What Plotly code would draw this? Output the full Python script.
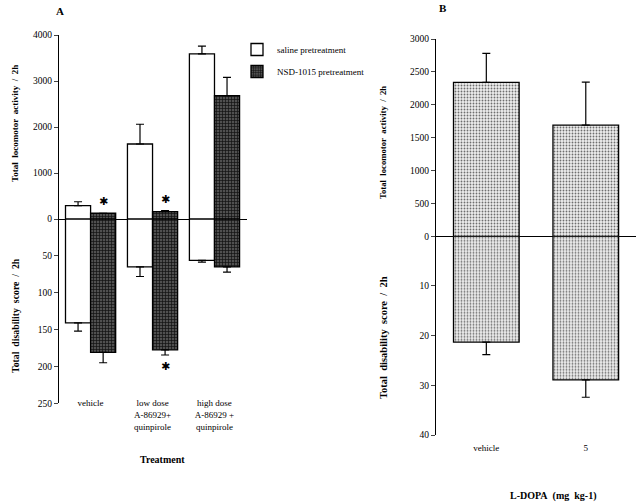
import plotly.graph_objects as go

# ---------------- data ----------------
treatments = ["vehicle", "low dose<br>A-86929+<br>quinpirole", "high dose<br>A-86929 +<br>quinpirole"]
saline_loco = [290, 1630, 3590]
saline_loco_err = [85, 430, 170]
nsd_loco = [125, 160, 2680]
nsd_loco_err = [0, 25, 400]
saline_dis = [141, 65, 56]
saline_dis_err = [11, 13, 2.5]
nsd_dis = [181, 177.5, 65]
nsd_dis_err = [14, 7, 7]
# significance stars: (category index, panel, value)
stars = [(0, "loco", 390), (1, "loco", 430), (1, "dis", 200)]

ldopa = ["vehicle", "5"]
ldopa_loco = [2340, 1690]
ldopa_loco_err = [440, 655]
ldopa_dis = [21.3, 28.9]
ldopa_dis_err = [2.5, 3.5]

FONT = "Liberation Serif"
W, H = 640, 504

def px_x(p):
    return p / W

def px_y(p):
    return (H - p) / H

fig = go.Figure()

sal_style = dict(marker=dict(color="white", line=dict(color="black", width=1.3)))
nsd_style = dict(marker=dict(color="#4a4a4a", line=dict(color="black", width=1.3),
                             pattern=dict(shape="+", size=3, solidity=0.4,
                                          fgcolor="#111111", bgcolor="#505050")))
err_kw = dict(type="data", symmetric=False, color="black", thickness=1.2, width=4)

# Panel A - locomotor (top)
fig.add_bar(x=treatments, y=saline_loco, name="saline pretreatment", xaxis="x", yaxis="y",
            error_y=dict(array=saline_loco_err, arrayminus=[0]*3, **err_kw),
            legendgroup="s", **sal_style)
fig.add_bar(x=treatments, y=nsd_loco, name="NSD-1015 pretreatment", xaxis="x", yaxis="y",
            error_y=dict(array=nsd_loco_err, arrayminus=[0]*3, **err_kw),
            legendgroup="n", **nsd_style)
# Panel A - disability (bottom)
fig.add_bar(x=treatments, y=saline_dis, name="saline pretreatment", xaxis="x2", yaxis="y2",
            error_y=dict(array=saline_dis_err, arrayminus=[0]*3, **err_kw),
            legendgroup="s", showlegend=False, **sal_style)
fig.add_bar(x=treatments, y=nsd_dis, name="NSD-1015 pretreatment", xaxis="x2", yaxis="y2",
            error_y=dict(array=nsd_dis_err, arrayminus=[0]*3, **err_kw),
            legendgroup="n", showlegend=False, **nsd_style)

dot_style = dict(marker=dict(color="#e8e8e8", line=dict(color="black", width=1.3),
                             pattern=dict(shape=".", size=3, solidity=0.3,
                                          fgcolor="#6e6e6e", bgcolor="#eeeeee")),
                 width=0.66, showlegend=False)
# Panel B
fig.add_bar(x=ldopa, y=ldopa_loco, xaxis="x3", yaxis="y3",
            error_y=dict(array=ldopa_loco_err, arrayminus=[0]*2, **err_kw), **dot_style)
fig.add_bar(x=ldopa, y=ldopa_dis, xaxis="x4", yaxis="y4",
            error_y=dict(array=ldopa_dis_err, arrayminus=[0]*2, **err_kw), **dot_style)

tickfont = dict(family=FONT, size=9.5, color="black")
ax_common = dict(showgrid=False, zeroline=False, tickfont=tickfont, automargin=False)
xcat = dict(showgrid=False, zeroline=False, automargin=False, type="category",
            tickfont=dict(family=FONT, size=9, color="black"))

xA = [px_x(59), px_x(246.7)]
xB = [px_x(436), px_x(636)]

fig.update_layout(
    template="none",
    width=W, height=H, margin=dict(l=0, r=0, t=0, b=0, pad=0, autoexpand=False),
    paper_bgcolor="white", plot_bgcolor="white",
    barmode="group", bargap=0.19, bargroupgap=0,
    font=dict(family=FONT, color="black"),
    showlegend=True,
    legend=dict(x=px_x(237), y=px_y(35), xanchor="left", yanchor="top",
                font=dict(family=FONT, size=9, color="black"),
                bgcolor="rgba(0,0,0,0)", tracegroupgap=3, itemwidth=30),
    xaxis=dict(domain=xA, anchor="y", range=[-0.51, 2.52], showticklabels=False,
               showline=True, linecolor="black", linewidth=1.3, ticks="", **xcat),
    yaxis=dict(domain=[px_y(219), px_y(35)], anchor="x", range=[0, 4000],
               tickvals=[0, 1000, 2000, 3000, 4000], ticks="outside", ticklen=4,
               showline=True, linecolor="black", linewidth=1.3, **ax_common),
    xaxis2=dict(domain=xA, anchor="y2", range=[-0.51, 2.52], showline=False, ticks="",
                ticklabelstandoff=-7, **xcat),
    yaxis2=dict(domain=[px_y(403.3), px_y(219)], anchor="x2", range=[250, 0],
                tickvals=[50, 100, 150, 200, 250], ticks="outside", ticklen=4,
                showline=True, linecolor="black", linewidth=1.3, **ax_common),
    xaxis3=dict(domain=xB, anchor="y3", range=[-0.506, 1.505], showticklabels=False,
                showline=True, linecolor="black", linewidth=1.3, ticks="", **xcat),
    yaxis3=dict(domain=[px_y(236.3), px_y(39)], anchor="x3", range=[0, 3000],
                tickvals=[0, 500, 1000, 1500, 2000, 2500, 3000], ticks="outside", ticklen=4,
                showline=True, linecolor="black", linewidth=1.3, **ax_common),
    xaxis4=dict(domain=xB, anchor="y4", range=[-0.506, 1.505], showline=False, ticks="",
                ticklabelstandoff=6, **xcat),
    yaxis4=dict(domain=[px_y(435), px_y(236.3)], anchor="x4", range=[40, 0],
                tickvals=[10, 20, 30, 40], ticks="outside", ticklen=4,
                showline=True, linecolor="black", linewidth=1.3, **ax_common),
)

ann = []
def title(text, x, y, angle=-90, size=10):
    ann.append(dict(text=text, x=px_x(x), y=px_y(y), xref="paper", yref="paper",
                    showarrow=False, textangle=angle, xanchor="center", yanchor="middle",
                    font=dict(family=FONT, size=size, color="black")))

nb = "\u00a0"
title(f"<b>Total{nb}{nb}locomotor{nb}{nb}activity{nb}{nb}/{nb}{nb}2h</b>", 15, 124, size=9)
title(f"<b>Total{nb}{nb}disability{nb}{nb}score{nb}{nb}/{nb}{nb}2h</b>", 15, 316, size=9.8)
title(f"<b>Total{nb}{nb}locomotor{nb}{nb}activity{nb}{nb}/{nb}{nb}2h</b>", 383, 143, size=8.7)
title(f"<b>Total{nb}{nb}disability{nb}{nb}score{nb}{nb}/{nb}{nb}2h</b>", 383, 338, size=10.5)
title("<b>Treatment</b>", 162, 459, angle=0)
title(f"<b>L-DOPA{nb}{nb}(mg{nb}{nb}kg-1)</b>", 553, 496, angle=0)
title("<b>A</b>", 60, 11, angle=0, size=11)
title("<b>B</b>", 443, 8, angle=0, size=11)

bar_half_px = 0.405 * (246.7 - 59) / 3.03 / 2
for idx, panel, val in stars:
    ann.append(dict(text="✱", x=treatments[idx], y=val,
                    xref="x" if panel == "loco" else "x2",
                    yref="y" if panel == "loco" else "y2",
                    xshift=bar_half_px, showarrow=False,
                    font=dict(family="DejaVu Sans", size=11, color="black")))

fig.update_layout(annotations=ann)
fig.write_html("out.html", config={"displayModeBar": False},
               post_script="document.body.style.margin='0';document.body.style.overflow='hidden';")
